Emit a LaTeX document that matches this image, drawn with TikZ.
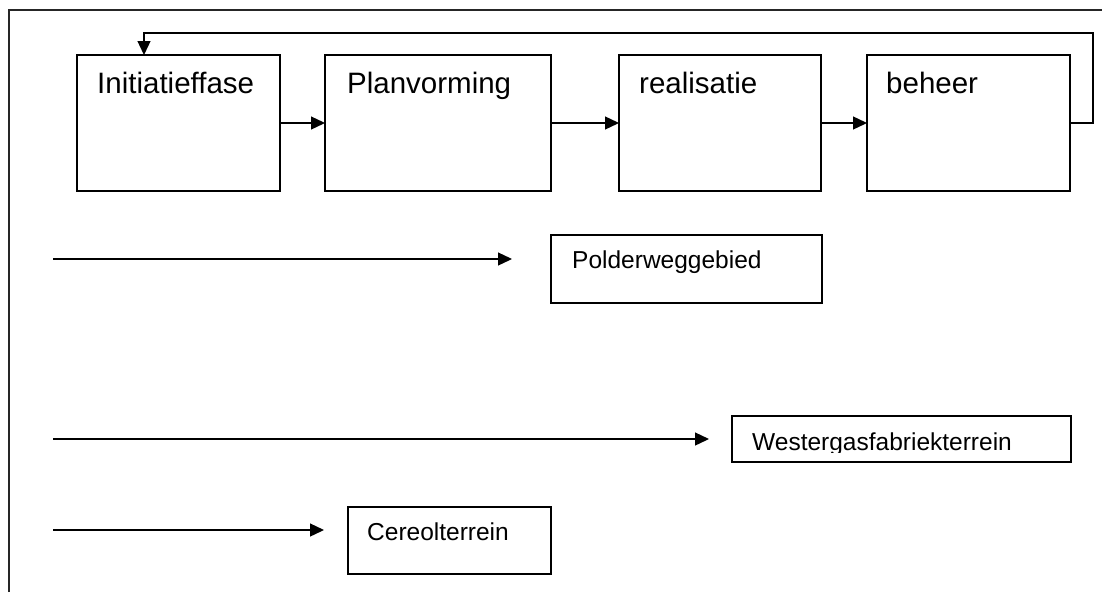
\documentclass[tikz,border=0pt]{standalone}
\usepackage{fontspec}
\setmainfont{Liberation Sans}
\usetikzlibrary{arrows.meta,positioning}

\begin{document}
\begin{tikzpicture}[x=1pt,y=-1pt,
  box/.style={draw=black,line width=2pt,inner sep=0pt,outer sep=0pt},
  phase/.style={anchor=base west,inner sep=0pt,font=\fontsize{29.5}{35}\selectfont},
  site/.style={anchor=base west,inner sep=0pt,font=\fontsize{24.5}{29}\selectfont},
  arr/.style={-{Triangle[length=14pt,width=13pt]},line width=1.3pt}]
\useasboundingbox (0,0) rectangle (1102,592);
\draw[line width=1.6pt,black!85] (9,592) -- (9,10) -- (1102,10);
% phases
\node[box,minimum width=203pt,minimum height=136pt] (b1) at (178.5,123) {};
\node[box,minimum width=226pt,minimum height=136pt] (b2) at (438,123) {};
\node[box,minimum width=202pt,minimum height=136pt] (b3) at (720,123) {};
\node[box,minimum width=203pt,minimum height=136pt] (b4) at (968.5,123) {};
\node[phase] (t1) at ([shift={(20,38)}]b1.north west) {Initiatieffase};
\node[phase] (t2) at ([shift={(22,38)}]b2.north west) {Planvorming};
\node[phase] (t3) at ([shift={(20,38)}]b3.north west) {realisatie};
\node[phase] (t4) at ([shift={(19,38)}]b4.north west) {beheer};
\draw[arr] (b1) -- (b2);
\draw[arr] (b2) -- (b3);
\draw[arr] (b3) -- (b4);
\coordinate (fb) at (144,33);
\draw[arr] (b4.east) -- ++(23,0) |- (fb) -- (fb |- b1.north);
% sites
\node[box,minimum width=271pt,minimum height=68pt] (p1) at (686.5,269) {};
\node[box,minimum width=339pt,minimum height=46pt] (p2) at (901.5,439) {};
\node[box,minimum width=203pt,minimum height=67pt] (p3) at (449.5,540.5) {};
\node[site] (s1) at ([shift={(21,33)}]p1.north west) {Polderweggebied};
\begin{scope}
\clip (p2.north west) rectangle ([yshift=10pt]p2.south east);
\node[site] (s2) at ([shift={(20,34)}]p2.north west) {Westergasfabriekterrein};
\end{scope}
\node[site] (s3) at ([shift={(19,33)}]p3.north west) {Cereolterrein};
\coordinate (a1) at (53,259);
\coordinate (e1) at (512,259);
\coordinate (a2) at (53,439);
\coordinate (e2) at (709,439);
\coordinate (a3) at (53,530);
\coordinate (e3) at (324,530);
\draw[arr] (a1) -- (e1);
\draw[arr] (a2) -- (e2);
\draw[arr] (a3) -- (e3);
\end{tikzpicture}
\end{document}
